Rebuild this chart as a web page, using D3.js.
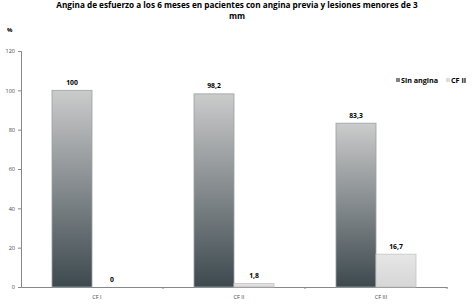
<!DOCTYPE html>
<html>
<head>
<meta charset="utf-8">
<script src="https://cdn.jsdelivr.net/npm/d3@7"></script>
<style>
  body { margin: 0; background: #fff; }
  text { font-family: "Open Sans", "DejaVu Sans", sans-serif; }
</style>
</head>
<body>
<div id="chart"></div>
<script>
var width = 473,
    height = 306

var categories = ["CF I", "CF II", "CF III"]
var series = ["Sin angina", "CF II"]
var sinAngina = [100, 98.2, 83.3]
var cfII = [0, 1.8, 16.7]
var yTicks = [0, 20, 40, 60, 80, 100, 120]

var margin = {top: 51, right: 26, bottom: 19, left: 21}

var svg = d3.select("#chart")
  .append("svg")
    .attr("width", width)
    .attr("height", height)

var defs = svg.append("defs")
var g1 = defs.append("linearGradient").attr("id", "gDark")
  .attr("x1", 0).attr("y1", 0).attr("x2", 0).attr("y2", 1)
g1.append("stop").attr("offset", "0%").attr("stop-color", "#cbcbcb")
g1.append("stop").attr("offset", "100%").attr("stop-color", "#3d494f")
var g2 = defs.append("linearGradient").attr("id", "gLight")
  .attr("x1", 0).attr("y1", 0).attr("x2", 0).attr("y2", 1)
g2.append("stop").attr("offset", "0%").attr("stop-color", "#e6e6e6")
g2.append("stop").attr("offset", "100%").attr("stop-color", "#d6d6d6")
var fills = ["url(#gDark)", "url(#gLight)"]

// title
svg.append("text")
  .attr("x", 237).attr("y", 8)
  .attr("text-anchor", "middle")
  .style("font-size", "8.2px").style("font-weight", "bold")
  .text("Angina de esfuerzo a los 6 meses en pacientes con angina previa y lesiones menores de 3")
svg.append("text")
  .attr("x", 237).attr("y", 19)
  .attr("text-anchor", "middle")
  .style("font-size", "8.2px").style("font-weight", "bold")
  .text("mm")

svg.append("text")
  .attr("x", 7).attr("y", 32)
  .style("font-size", "6px").style("font-weight", "bold")
  .text("%")

var x = d3.scaleBand()
  .domain(categories)
  .range([margin.left, width - margin.right])

var y = d3.scaleLinear()
  .domain([0, 120])
  .range([height - margin.bottom, margin.top])

var barW = 40
var data = []
categories.forEach(function(c, i) {
  data.push({cat: c, s: 0, v: sinAngina[i]})
  data.push({cat: c, s: 1, v: cfII[i]})
})

// axes
var gy = svg.append("g")
  .attr("transform", "translate(" + margin.left + ",0)")
  .call(d3.axisLeft(y).tickValues(yTicks).tickSize(3))
gy.select(".domain").attr("stroke", "#888")
gy.selectAll(".tick line").attr("stroke", "#888")
gy.selectAll(".tick text").style("font-size", "5.5px").attr("fill", "#444")

var gx = svg.append("g")
  .attr("transform", "translate(0," + y(0) + ")")
  .call(d3.axisBottom(x).tickSize(0).tickPadding(8))
gx.select(".domain").attr("stroke", "#888")
gx.selectAll(".tick text").style("font-size", "5.5px").attr("fill", "#444")
  .attr("dx", 5)
gx.selectAll("line.sep")
  .data(categories.slice(1).concat(["end"]))
  .enter().append("line")
  .attr("x1", function(d, i) { return margin.left + x.step() * (i + 1) })
  .attr("x2", function(d, i) { return margin.left + x.step() * (i + 1) })
  .attr("y1", 0).attr("y2", 2)
  .attr("stroke", "#888")

function bx(d) {
  return x(d.cat) + x.bandwidth() / 2 - barW + d.s * barW
}

svg.selectAll("rect.bar")
  .data(data.filter(function(d) { return d.v > 0 }))
  .enter().append("rect")
    .attr("class", "bar")
    .attr("x", bx)
    .attr("y", function(d) { return y(d.v) })
    .attr("width", barW)
    .attr("height", function(d) { return y(0) - y(d.v) })
    .attr("fill", function(d) { return fills[d.s] })
    .attr("stroke", function(d) { return d.s ? "#c4c4c4" : "#9aa0a3" })
    .attr("stroke-width", 0.8)

svg.selectAll("text.lbl")
  .data(data)
  .enter().append("text")
    .attr("x", function(d) { return bx(d) + barW / 2 })
    .attr("y", function(d) { return y(d.v) - 5.5 })
    .attr("text-anchor", "middle")
    .style("font-size", "6.8px").style("font-weight", "bold")
    .text(function(d) { return d3.format(",")(d.v).replace(".", ",") })

// legend
var legX = [396, 446]
var leg = svg.selectAll("g.leg")
  .data(series)
  .enter().append("g")
  .attr("transform", function(d, i) { return "translate(" + legX[i] + ",78)" })
leg.append("rect")
  .attr("width", 4).attr("height", 4)
  .attr("fill", function(d, i) { return i ? "#dcdcdc" : "#7c8488" })
leg.append("text")
  .attr("x", 5).attr("y", 4.8)
  .style("font-size", "7.2px").style("font-weight", "bold")
  .text(function(d) { return d })
</script>
</body>
</html>
